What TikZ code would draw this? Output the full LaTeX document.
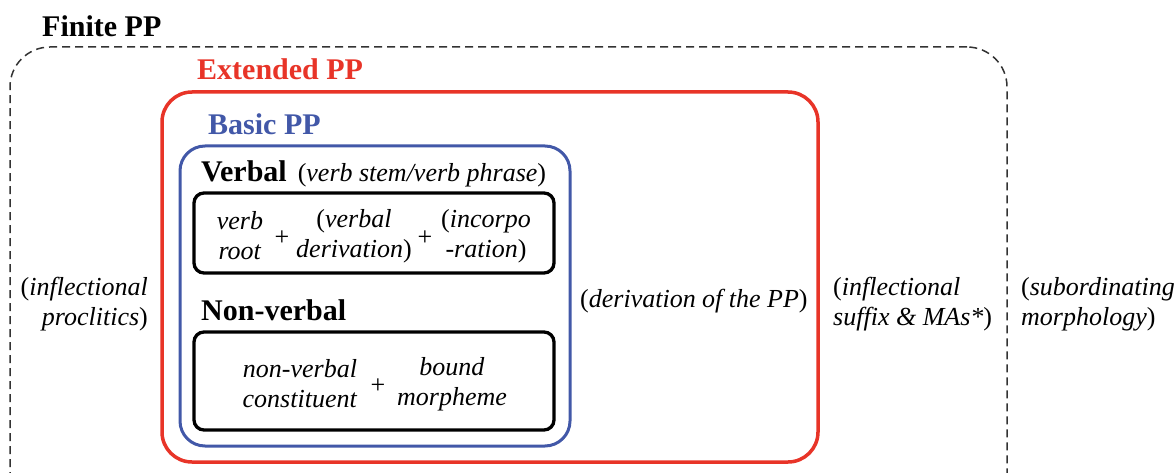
\documentclass[tikz,border=0pt]{standalone}
\usepackage{fontspec}
\setmainfont{Liberation Serif}
\definecolor{ppred}{RGB}{232,52,40}
\definecolor{ppblue}{RGB}{66,88,168}

\begin{document}
\begin{tikzpicture}[x=1pt, y=-1pt,
  frame/.style={rectangle, inner sep=0pt},
  head/.style={anchor=base west, inner sep=0pt, font=\fontsize{30}{36}\selectfont\bfseries},
  gloss/.style={inner sep=0pt, font=\fontsize{26}{30}\selectfont},
  plus/.style={inner sep=0pt, font=\fontsize{26}{30}\selectfont}]
  \useasboundingbox (0,0) rectangle (1174,473);
  \clip (0,0) rectangle (1174,473);

  % nested PP frames
  \node[frame, draw=black!80, dash pattern=on 8pt off 5pt, line width=1.5pt, rounded corners=40pt, minimum width=997pt, minimum height=466pt] (finitePP) at (508.5,280) {};
  \node[frame, draw=ppred, line width=3.5pt, rounded corners=30pt, minimum width=656pt, minimum height=370pt] (extendedPP) at (490,277) {};
  \node[frame, draw=ppblue, line width=3pt, rounded corners=25pt, minimum width=390pt, minimum height=300pt] (basicPP) at (375,296) {};
  \node[frame, draw=black, line width=3.3pt, rounded corners=10pt, minimum width=360pt, minimum height=80pt] (verbalBox) at (374,233) {};
  \node[frame, draw=black, line width=3.3pt, rounded corners=10pt, minimum width=360pt, minimum height=98pt] (nonverbalBox) at (374,381) {};

  % headings
  \node[head] (finiteHd) at (42,37) {Finite PP};
  \node[head, text=ppred] (extendedHd) at (197,80) {Extended PP};
  \node[head, text=ppblue] (basicHd) at (208,135) {Basic PP};
  \node[head] (verbalHd) at (201,182) {Verbal\hspace{11pt}{\mdseries\fontsize{26}{30}\selectfont(\textit{verb stem/verb phrase})}};
  \node[head] (nonverbalHd) at (201,320) {Non-verbal};

  % verbal PP
  \node[gloss, align=center] (verbRoot) at (240,236) {\textit{verb}\\\textit{root}};
  \node[plus] (plusA) at (282,238) {+};
  \node[gloss, align=center] (verbDeriv) at (354,236) {(\textit{verbal}\\\textit{derivation})};
  \node[plus] (plusB) at (425,238) {+};
  \node[gloss, align=center] (incorp) at (486,236) {(\textit{incorpo}\\\textit{-ration})};

  % non-verbal PP
  \node[gloss, align=center] (nvConst) at (300,384) {\textit{non-verbal}\\\textit{constituent}};
  \node[plus] (plusC) at (378,386) {+};
  \node[gloss, align=center] (boundMorph) at (452,384) {\textit{bound}\\\textit{morpheme}};

  % side glosses
  \node[gloss, align=right, anchor=east] (proclitics) at (148,304) {(\textit{inflectional}\\\textit{proclitics})};
  \node[gloss, anchor=west] (ppDeriv) at (580,301) {(\textit{derivation of the PP})};
  \node[gloss, align=left, anchor=west] (inflSuffix) at (833,304) {(\textit{inflectional}\\\textit{suffix \& MAs*})};
  \node[gloss, align=left, anchor=west] (subord) at (1021,304) {(\textit{subordinating}\\\textit{morphology})};
\end{tikzpicture}
\end{document}
